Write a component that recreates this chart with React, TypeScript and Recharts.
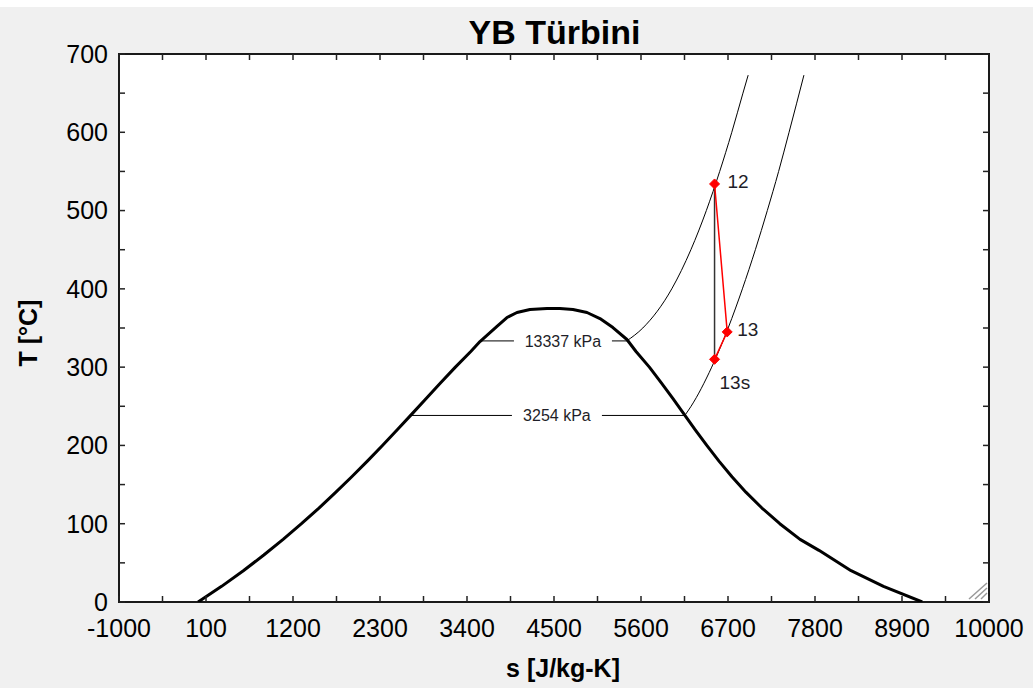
import React from 'react';
import { LineChart, Line, XAxis, YAxis, ReferenceArea, ReferenceDot, LabelList } from 'recharts';

// ---- axis ticks ----
const xTicks = [-1000, 100, 1200, 2300, 3400, 4500, 5600, 6700, 7800, 8900, 10000];
const xMinorTicks = [-1000, -450, 100, 650, 1200, 1750, 2300, 2850, 3400, 3950, 4500, 5050, 5600, 6150, 6700, 7250, 7800, 8350, 8900, 9450, 10000];
const yTicks = [0, 100, 200, 300, 400, 500, 600, 700];
const yMinorTicks = [0, 50, 100, 150, 200, 250, 300, 350, 400, 450, 500, 550, 600, 650, 700];

// ---- saturation dome (s [J/kg-K], T [°C]) ----
const domeS = [0, 297, 572, 831, 1075, 1307, 1528, 1739, 1943, 2140, 2331, 2518, 2702, 2884, 3067, 3253, 3448, 3564, 3779, 3905, 4032, 4196, 4411, 4575, 4740, 4917, 5081, 5245, 5422, 5537, 5706, 5857, 6002, 6144, 6286, 6432, 6586, 6750, 6929, 7129, 7355, 7611, 7850, 8256, 8666, 9156];
const domeT = [0, 20, 40, 60, 80, 100, 120, 140, 160, 180, 200, 220, 240, 260, 280, 300, 320, 332.7, 352, 363.4, 369.8, 373.7, 375, 375, 373.7, 369.8, 362.1, 350.6, 335.3, 320, 300, 280, 260, 240, 220, 200, 180, 160, 140, 120, 100, 80, 66, 40, 20, 0];

// ---- isobar 13337 kPa ----
const highPS = [3570, 5420, 5623, 5989, 6231, 6426, 6595, 6748, 6889, 6955];
const highPT = [333.5, 333.5, 350, 400, 450, 500, 550, 600, 650, 673];

// ---- isobar 3254 kPa ----
const lowPS = [2680, 6154, 6233, 6494, 6702, 6882, 7046, 7197, 7340, 7472, 7660];
const lowPT = [238.3, 238.3, 250, 300, 350, 400, 450, 500, 550, 600, 673];

// ---- isobar labels ----
const isobarNames = ['13337 kPa', '3254 kPa'];
const isobarLabelS = [4613, 4537];
const isobarLabelT = [333.5, 238.3];

// ---- turbine states ----
const stateNames = ['12', '13', '13s'];
const stateS = [6530, 6690, 6530];
const stateT = [534, 345, 310];

// ---- built series ----
const toPts = (s: number[], t: number[]) => s.map((v, i) => ({ s: v, T: t[i] }));
const domeData = toPts(domeS, domeT);
const highPSat = toPts(highPS.slice(0, 2), highPT.slice(0, 2));
const highPSup = toPts(highPS.slice(1), highPT.slice(1));
const lowPSat = toPts(lowPS.slice(0, 2), lowPT.slice(0, 2));
const lowPSup = toPts(lowPS.slice(1), lowPT.slice(1));
const processData = [0, 1, 2].map((i) => ({ s: stateS[i], T: stateT[i], name: stateNames[i] }));
const isentropicData = [0, 2].map((i) => ({ s: stateS[i], T: stateT[i] }));

// ---- styles ----
const FONT = '"Liberation Sans", Arial, sans-serif';
const labelOffsets = [
  { dx: 13, dy: 4 },
  { dx: 10, dy: 4 },
  { dx: 5, dy: 30 },
];
const isobarBoxWidths = [98, 90];
const X_DOMAIN: [number, number] = [-1000, 10000];
const Y_DOMAIN: [number, number] = [0, 700];

const Diamond = (props: any) => {
  const { cx, cy } = props;
  if (cx == null || cy == null) return <g />;
  const r = 5;
  return (
    <polygon
      points={`${cx},${cy - r} ${cx + r},${cy} ${cx},${cy + r} ${cx - r},${cy}`}
      fill="#ff0000"
      stroke="#ff0000"
      strokeWidth={1}
    />
  );
};

const StateLabel = (props: any) => {
  const { x, y, value, index } = props;
  const o = labelOffsets[index] || { dx: 10, dy: 4 };
  return (
    <text x={x + o.dx} y={y + o.dy} fontSize={19} fontFamily={FONT} fill="#1e1e28">
      {value}
    </text>
  );
};

const makeIsobarLabel = (i: number) => (props: any) => {
  const { cx, cy } = props;
  const w = isobarBoxWidths[i];
  return (
    <g>
      <rect x={cx - w / 2} y={cy - 8} width={w} height={16} fill="#ffffff" />
      <text x={cx} y={cy + 6} textAnchor="middle" fontSize={16} fontFamily={FONT} fill="#1e1e28">
        {isobarNames[i]}
      </text>
    </g>
  );
};

const NoTick = () => <g />;

const thinLine = (data: any[], key: string, curve: any) => (
  <Line
    key={key}
    data={data}
    dataKey="T"
    type={curve}
    stroke="#000"
    strokeWidth={1}
    dot={false}
    activeDot={false}
    isAnimationActive={false}
  />
);

export default function App() {
  return (
    <div
      style={{
        position: 'absolute',
        left: 0,
        top: 0,
        width: 1033,
        height: 688,
        background: '#f0f0f0',
        overflow: 'hidden',
        fontFamily: FONT,
      }}
    >
      <div style={{ position: 'absolute', left: 0, top: 0, width: 1033, height: 7, background: '#ffffff' }} />
      <div
        style={{
          position: 'absolute',
          left: 0,
          width: 1109,
          top: 13,
          textAlign: 'center',
          fontSize: 34,
          fontWeight: 'bold',
          color: '#000',
          lineHeight: '38px',
        }}
      >
        YB Türbini
      </div>
      <LineChart
        width={1033}
        height={688}
        margin={{ top: 54, right: 44, bottom: 0, left: 0 }}
        style={{ position: 'absolute', left: 0, top: 0 }}
      >
        <XAxis
          dataKey="s"
          type="number"
          domain={X_DOMAIN}
          allowDataOverflow
          ticks={xTicks}
          interval={0}
          height={86}
          tickLine={false}
          axisLine={false}
          tickSize={0}
          tickMargin={17}
          tick={{ fontSize: 25, fill: '#000', fontFamily: FONT }}
          label={{
            value: 's [J/kg-K]',
            content: (p: any) => {
              const vb = p.viewBox || {};
              return (
                <text
                  x={vb.x + vb.width / 2 + 9}
                  y={677}
                  textAnchor="middle"
                  fontSize={25}
                  fontWeight="bold"
                  fontFamily={FONT}
                  fill="#000"
                >
                  s [J/kg-K]
                </text>
              );
            },
          }}
        />
        <XAxis
          xAxisId="bm"
          dataKey="s"
          type="number"
          orientation="bottom"
          mirror
          domain={X_DOMAIN}
          allowDataOverflow
          ticks={xMinorTicks}
          interval={0}
          axisLine={false}
          tickLine={{ stroke: '#222', strokeWidth: 1.5 }}
          tickSize={6}
          tick={NoTick}
        />
        <XAxis
          xAxisId="tm"
          dataKey="s"
          type="number"
          orientation="top"
          mirror
          domain={X_DOMAIN}
          allowDataOverflow
          ticks={xMinorTicks}
          interval={0}
          axisLine={false}
          tickLine={{ stroke: '#222', strokeWidth: 1.5 }}
          tickSize={6}
          tick={NoTick}
        />
        <YAxis
          dataKey="T"
          type="number"
          domain={Y_DOMAIN}
          allowDataOverflow
          ticks={yTicks}
          interval={0}
          width={119}
          tickLine={false}
          axisLine={false}
          tickSize={0}
          tickMargin={11}
          tick={{ fontSize: 25, fill: '#000', fontFamily: FONT }}
          label={{
            value: 'T [°C]',
            content: (p: any) => {
              const vb = p.viewBox || {};
              const cy = vb.y + vb.height / 2 + 5;
              return (
                <text
                  x={37}
                  y={cy}
                  transform={`rotate(-90, 37, ${cy})`}
                  textAnchor="middle"
                  fontSize={25}
                  fontWeight="bold"
                  fontFamily={FONT}
                  fill="#000"
                >
                  T [°C]
                </text>
              );
            },
          }}
        />
        <YAxis
          yAxisId="lm"
          dataKey="T"
          type="number"
          orientation="left"
          mirror
          domain={Y_DOMAIN}
          allowDataOverflow
          ticks={yMinorTicks}
          interval={0}
          axisLine={false}
          tickLine={{ stroke: '#222', strokeWidth: 1.5 }}
          tickSize={6}
          tick={NoTick}
        />
        <YAxis
          yAxisId="rm"
          dataKey="T"
          type="number"
          orientation="right"
          mirror
          domain={Y_DOMAIN}
          allowDataOverflow
          ticks={yMinorTicks}
          interval={0}
          axisLine={false}
          tickLine={{ stroke: '#222', strokeWidth: 1.5 }}
          tickSize={6}
          tick={NoTick}
        />
        <ReferenceArea
          x1={X_DOMAIN[0]}
          x2={X_DOMAIN[1]}
          y1={Y_DOMAIN[0]}
          y2={Y_DOMAIN[1]}
          fill="#ffffff"
          fillOpacity={1}
          stroke="#1a1a1a"
          strokeWidth={2}
          ifOverflow="visible"
        />
        <Line
          data={domeData}
          dataKey="T"
          type="linear"
          stroke="#000"
          strokeWidth={3}
          strokeLinejoin="round"
          dot={false}
          activeDot={false}
          isAnimationActive={false}
        />
        {thinLine(highPSat, 'hsat', 'linear')}
        {thinLine(highPSup, 'hsup', 'monotoneX')}
        {thinLine(lowPSat, 'lsat', 'linear')}
        {thinLine(lowPSup, 'lsup', 'monotoneX')}
        <Line
          data={isentropicData}
          dataKey="T"
          type="linear"
          stroke="#333"
          strokeWidth={1.5}
          dot={false}
          activeDot={false}
          isAnimationActive={false}
        />
        <ReferenceDot
          x={isobarLabelS[0]}
          y={isobarLabelT[0]}
          r={1}
          ifOverflow="visible"
          shape={makeIsobarLabel(0)}
        />
        <ReferenceDot
          x={isobarLabelS[1]}
          y={isobarLabelT[1]}
          r={1}
          ifOverflow="visible"
          shape={makeIsobarLabel(1)}
        />
        <Line
          data={processData}
          dataKey="T"
          type="linear"
          stroke="#ff0000"
          strokeWidth={1.5}
          dot={<Diamond />}
          activeDot={false}
          isAnimationActive={false}
        >
          <LabelList dataKey="name" content={<StateLabel />} />
        </Line>
      </LineChart>
      <svg style={{ position: 'absolute', left: 966, top: 580 }} width={22} height={20}>
        <line x1={3} y1={19} x2={21} y2={3} stroke="#999" strokeWidth={1.5} />
        <line x1={9} y1={19} x2={21} y2={8} stroke="#999" strokeWidth={1.5} />
        <line x1={15} y1={19} x2={21} y2={13} stroke="#999" strokeWidth={1.5} />
      </svg>
    </div>
  );
}
